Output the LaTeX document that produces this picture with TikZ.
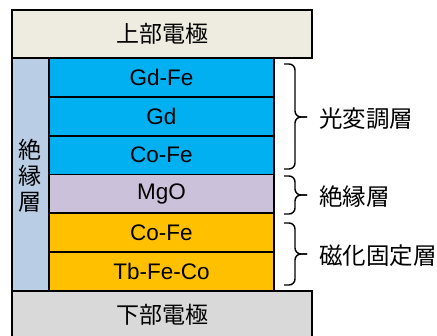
\documentclass[tikz,border=0pt]{standalone}
\usepackage{fontspec}
\setmainfont{Liberation Sans}
\newfontfamily\cjk{Noto Sans CJK JP}
\definecolor{elecTop}{HTML}{EEECE1}
\definecolor{elecBot}{HTML}{D9D9D9}
\definecolor{sideCol}{HTML}{B9CDE5}
\definecolor{blueL}{HTML}{00B0F0}
\definecolor{lavL}{HTML}{CCC1DA}
\definecolor{orangeL}{HTML}{FFC000}
\tikzset{
  layer/.style={draw=black, line width=1.8pt, inner sep=0pt, minimum width=225pt, minimum height=38.83pt,
    font=\fontsize{22.5}{26}\selectfont},
  electrode/.style={draw=black, line width=1.8pt, inner sep=0pt, minimum width=300pt, minimum height=48pt,
    font=\fontsize{23}{26}\selectfont\cjk},
  sidebox/.style={draw=black, line width=1.8pt, inner sep=0pt, fill=sideCol, minimum width=37pt, minimum height=233pt},
  bracelabel/.style={anchor=west, inner sep=0pt, font=\fontsize{23.5}{26}\selectfont\cjk},
  bracepath/.style={draw=black, line width=1.4pt, rounded corners=6pt}
}
\begin{document}
\begin{tikzpicture}[x=1pt, y=-1pt]
\useasboundingbox (0,0) rectangle (437,336);
\clip (0,0) rectangle (437,336);
\fill[white] (0,0) rectangle (437,336);
% side insulation column
\node[sidebox] (side) at (30.5,174.5) {};
\node[font=\fontsize{23}{26}\selectfont\cjk, align=center, inner sep=0pt] (sidetext) at (30.5,176) {絶\\縁\\層};
% layers
\node[layer, fill=blueL] (gdfe) at (161.5,77.4) {Gd-Fe};
\node[layer, fill=blueL] (gd) at (161.5,116.2) {Gd};
\node[layer, fill=blueL] (cofe1) at (161.5,155.1) {Co-Fe};
\node[layer, fill=lavL] (mgo) at (161.5,193.9) {MgO};
\node[layer, fill=orangeL] (cofe2) at (161.5,232.7) {Co-Fe};
\node[layer, fill=orangeL] (tbfeco) at (161.5,271.6) {Tb-Fe-Co};
% electrodes
\node[electrode, fill=elecTop] (top) at (162,34) {上部電極};
\node[electrode, fill=elecBot] (bot) at (162,315) {下部電極};
% braces
\coordinate (b1t) at (284,64);
\coordinate (b1b) at (284,169);
\coordinate (b1m) at (307,117);
\draw[bracepath] (b1t) -- (295,64) -- (295,117) -- (b1m);
\draw[bracepath] (b1b) -- (295,169) -- (295,117) -- (b1m);
\coordinate (b2t) at (284,176);
\coordinate (b2b) at (284,214);
\coordinate (b2m) at (307,195);
\draw[bracepath] (b2t) -- (295,176) -- (295,195) -- (b2m);
\draw[bracepath] (b2b) -- (295,214) -- (295,195) -- (b2m);
\coordinate (b3t) at (284,223);
\coordinate (b3b) at (284,285);
\coordinate (b3m) at (307,254);
\draw[bracepath] (b3t) -- (295,223) -- (295,254) -- (b3m);
\draw[bracepath] (b3b) -- (295,285) -- (295,254) -- (b3m);
% labels
\node[bracelabel] (l1) at (319,119) {光変調層};
\node[bracelabel] (l2) at (319,197) {絶縁層};
\node[bracelabel] (l3) at (319,256) {磁化固定層};
\end{tikzpicture}
\end{document}
